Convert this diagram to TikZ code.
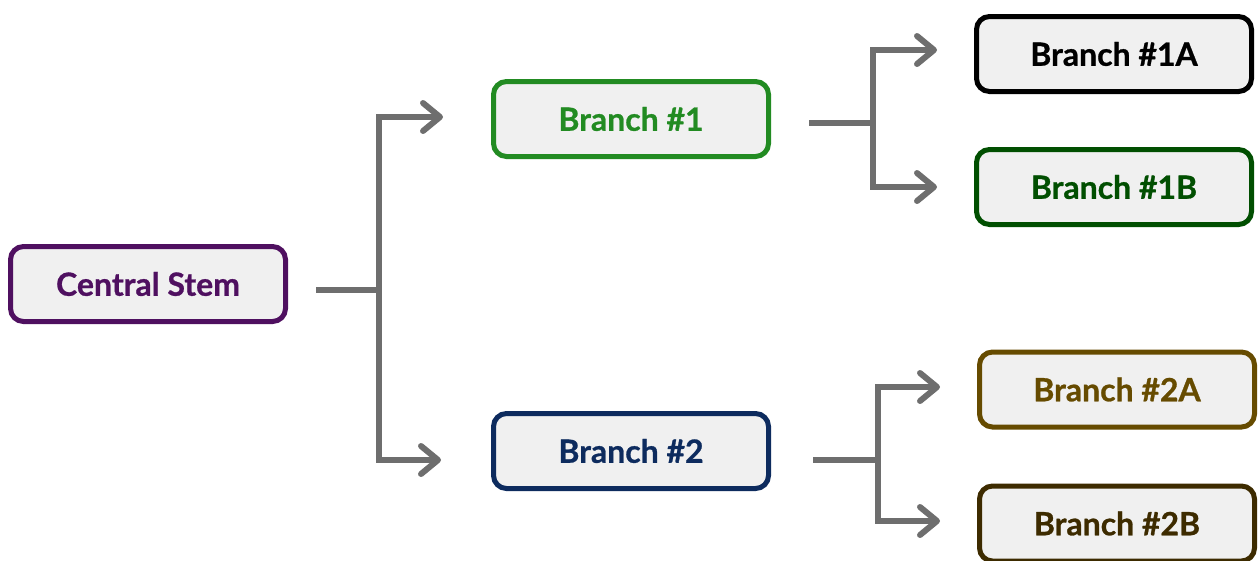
\documentclass[tikz,border=0pt]{standalone}
\usepackage{fontspec}
\setmainfont{Lato}[BoldFeatures={FakeBold=0.8}]
\usetikzlibrary{arrows.meta,calc}
\definecolor{fillgray}{HTML}{F0F0F0}
\definecolor{linegray}{HTML}{6E6E6E}
\definecolor{cstem}{HTML}{4F1060}
\definecolor{bone}{HTML}{228B22}
\definecolor{btwo}{HTML}{0D2B5E}
\definecolor{bonea}{HTML}{000000}
\definecolor{boneb}{HTML}{014F01}
\definecolor{btwoa}{HTML}{664B00}
\definecolor{btwob}{HTML}{3D2B00}
\tikzset{
  box/.style={draw=#1, text=#1, fill=fillgray, line width=5pt, rounded corners=13pt,
    minimum width=275pt, minimum height=75pt, inner sep=0pt,
    font=\fontsize{32}{38}\selectfont\bfseries},
  conn/.style={draw=linegray, line width=6pt},
  arr/.style={conn, -{Straight Barb[length=17pt,width=28pt,round]}},
}
\begin{document}
\begin{tikzpicture}[x=1pt,y=-1pt]
\useasboundingbox (0,0) rectangle (1258,560);
\node[box=cstem] (cs) at (148,284) {Central Stem};
\node[box=bone] (b1) at (631,119) {Branch \#1};
\node[box=btwo] (b2) at (631,451) {Branch \#2};
\node[box=bonea] (b1a) at (1114,54) {Branch \#1A};
\node[box=boneb] (b1b) at (1114,187) {Branch \#1B};
\node[box=btwoa] (b2a) at (1117,389.5) {Branch \#2A};
\node[box=btwob] (b2b) at (1117,523.5) {Branch \#2B};
% stem connectors
\coordinate (s0) at ($(cs.east)+(28,6)$);
\coordinate (j0) at ($(cs.east)+(91,6)$);
\draw[conn] (s0) -- (j0);
\draw[arr] (j0) |- ($(b1.west)+(-48,-2)$);
\draw[arr] (j0) |- ($(b2.west)+(-50,9)$);
% branch 1 connectors
\coordinate (s1) at ($(b1.east)+(38,4)$);
\coordinate (j1) at ($(b1.east)+(102,4)$);
\draw[conn] (s1) -- (j1);
\draw[arr] (j1) |- ($(b1a.west)+(-37,-4)$);
\draw[arr] (j1) |- ($(b1b.west)+(-37,0)$);
% branch 2 connectors
\coordinate (s2) at ($(b2.east)+(42,9)$);
\coordinate (j2) at ($(b2.east)+(107,9)$);
\draw[conn] (s2) -- (j2);
\draw[arr] (j2) |- ($(b2a.west)+(-37,-2.5)$);
\draw[arr] (j2) |- ($(b2b.west)+(-37,-2.5)$);
\end{tikzpicture}
\end{document}
